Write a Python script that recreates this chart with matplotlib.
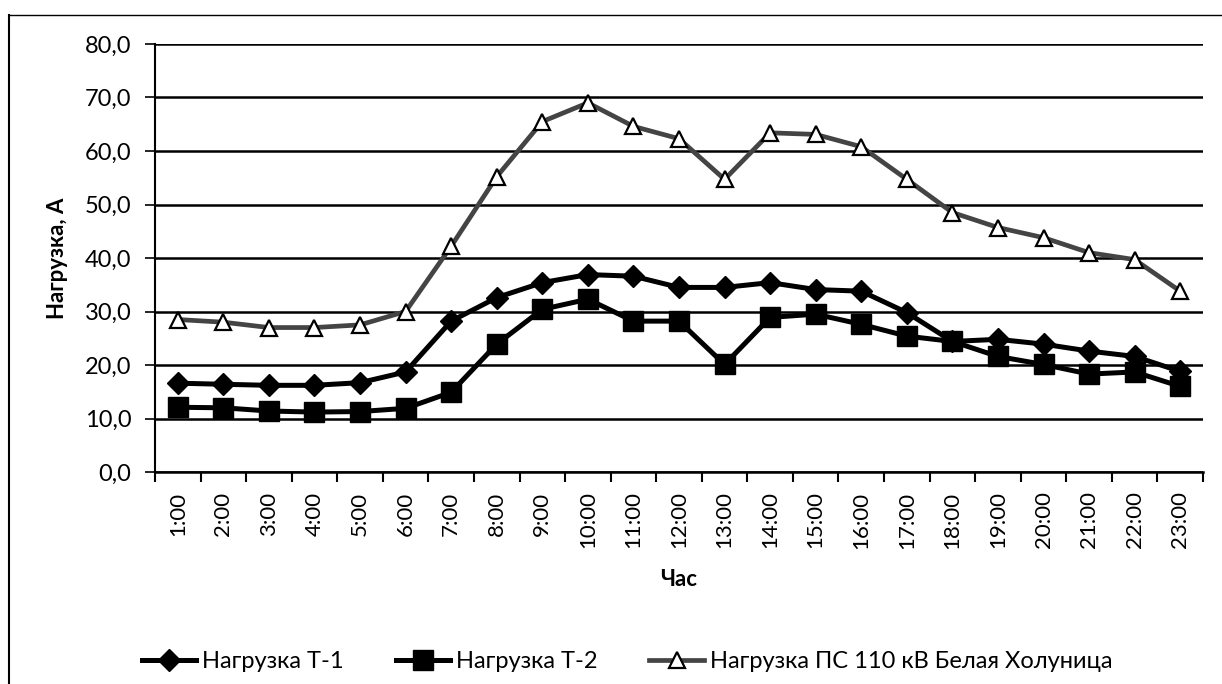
import matplotlib
matplotlib.use('Agg')
import matplotlib.pyplot as plt
from matplotlib.lines import Line2D

plt.rcParams['font.family'] = ['Lato', 'DejaVu Sans']

# данные
hours = ['%d:00' % h for h in range(1, 24)]
t1 = [16.6, 16.4, 16.2, 16.2, 16.7, 18.7, 28.2, 32.6, 35.4, 36.9, 36.6, 34.5,
      34.5, 35.4, 34.1, 33.8, 29.8, 24.4, 24.8, 23.9, 22.6, 21.6, 18.8]
t2 = [12.1, 12.0, 11.4, 11.2, 11.3, 11.9, 14.9, 23.9, 30.4, 32.3, 28.2, 28.2,
      20.1, 28.9, 29.5, 27.6, 25.4, 24.4, 21.6, 20.1, 18.3, 18.7, 16.0]
ps = [28.5, 28.0, 27.0, 27.0, 27.5, 30.0, 42.2, 55.2, 65.5, 69.0, 64.6, 62.3,
      54.7, 63.4, 63.1, 60.8, 54.7, 48.5, 45.7, 43.8, 41.0, 39.7, 33.8]
names = ['Нагрузка Т-1', 'Нагрузка Т-2', 'Нагрузка ПС 110 кВ Белая Холуница']

W, H = 1222, 684
fig = plt.figure(figsize=(W / 100, H / 100), dpi=100, facecolor='w')
ax = fig.add_axes([155 / W, 1 - 472 / H, (1203 - 155) / W, (472 - 44) / H])

x = list(range(len(hours)))
# серия ПС - тёмно-серая линия, белые треугольники
ax.plot(x, ps, color='#444444', lw=3.4, marker='^', ms=12, mfc='white',
        mec='black', mew=1.6, label=names[2], zorder=3)
ax.plot(x, t1, color='black', lw=3.6, marker='D', ms=11, mfc='black',
        mec='black', label=names[0], zorder=4)
ax.plot(x, t2, color='black', lw=3.6, marker='s', ms=14, mfc='black',
        mec='black', label=names[1], zorder=5)

ax.set_xlim(-0.5, len(hours) - 0.5)
ax.set_ylim(0, 80)
ax.set_yticks(range(0, 81, 10))
ax.set_yticklabels(['%d,0' % v for v in range(0, 81, 10)], fontsize=17)
ax.yaxis.grid(True, color='black', lw=1.8)
ax.set_axisbelow(True)

# метки по центру категорий, засечки на границах
ax.set_xticks(x)
ax.set_xticklabels(hours, rotation=90, fontsize=16)
ax.tick_params(axis='x', length=0, pad=14)
ax.set_xticks([i - 0.5 for i in range(len(hours) + 1)], minor=True)
ax.tick_params(axis='x', which='minor', length=7, width=1.5, direction='out')
ax.tick_params(axis='y', length=7, width=1.2, pad=10)

for s in ['top', 'right']:
    ax.spines[s].set_visible(False)
ax.spines['left'].set_linewidth(1.5)
ax.spines['bottom'].set_linewidth(1.8)

ax.set_ylabel('Нагрузка, А', fontsize=16, fontweight='bold', labelpad=12)
ax.set_xlabel('Час', fontsize=16, fontweight='bold', labelpad=15)

h, l = ax.get_legend_handles_labels()
fig.legend([h[1], h[2], h[0]], [l[1], l[2], l[0]], loc='center',
           bbox_to_anchor=(627 / W, 1 - 662 / H), ncol=3, frameon=False,
           fontsize=17, handlelength=2.3, columnspacing=2.2, handletextpad=0.25)

# рамка диаграммы
fig.add_artist(Line2D([9 / W, 9 / W], [0, 1 - 15 / H], color='black', lw=1.5))
fig.add_artist(Line2D([9 / W, 1], [1 - 15 / H, 1 - 15 / H], color='black', lw=1))

plt.savefig('out.png', dpi=100)
